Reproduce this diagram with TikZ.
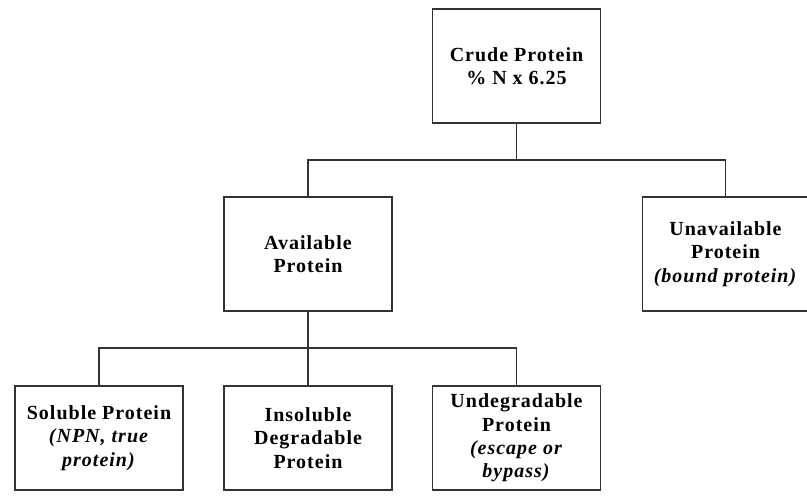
\documentclass[tikz,border=0pt]{standalone}
\usepackage{fontspec}
\setmainfont{Liberation Serif}[LetterSpace=5]
\begin{document}
\begin{tikzpicture}[x=0.75pt,y=-0.75pt,
  box/.style={draw=black!80,line width=0.9pt,align=center,inner sep=0pt,
    font=\fontsize{15}{17.5}\selectfont\bfseries},
  tall/.style={minimum width=126pt,minimum height=85.5pt},
  short/.style={minimum width=126pt,minimum height=78pt},
  conn/.style={draw=black!80,line width=0.9pt}]
\useasboundingbox (0,0) rectangle (807,500);
\clip (0,0) rectangle (807,500);
\node[box,tall] (top) at (516.5,66) {Crude Protein\\\% N x 6.25};
\node[box,tall] (avail) at (308,254) {Available\\Protein};
\node[box,tall,minimum width=124.5pt] (unavail) at (725.5,254) {Unavailable\\Protein\\\textit{(bound protein)}};
\node[box,short] (sol) at (99,438) {Soluble Protein\\\textit{(NPN, true}\\\textit{protein)}};
\node[box,short] (insol) at (308,438) {Insoluble\\Degradable\\Protein};
\node[box,short] (undeg) at (516.5,438) {Undegradable\\Protein\\\textit{(escape or}\\\textit{bypass)}};
\coordinate (b1) at (516.5,160);
\coordinate (b2) at (308,348);
\draw[conn] (top.south) -- (b1);
\draw[conn] (avail.north) |- (b1) -| (unavail.north);
\draw[conn] (avail.south) -- (b2);
\draw[conn] (sol.north) |- (b2) -| (undeg.north);
\draw[conn] (insol.north) -- (b2);
\end{tikzpicture}
\end{document}
